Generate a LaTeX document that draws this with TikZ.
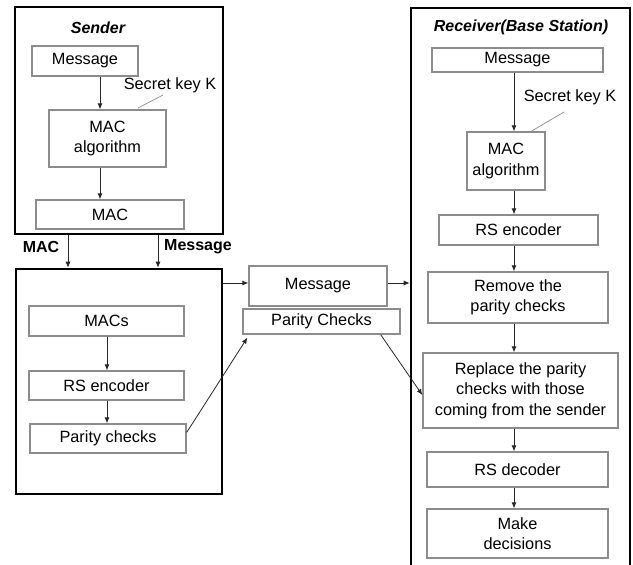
\documentclass[tikz,border=0pt]{standalone}
\usepackage{fontspec}
\setmainfont{Liberation Sans}
\usetikzlibrary{arrows.meta,calc}
\tikzset{
  box/.style={draw=black!45, line width=1.3pt, fill=white, inner sep=1pt, align=center, font=\fontsize{16.3}{20.5}\selectfont},
  outer/.style={draw=black, line width=2.6pt, inner sep=0pt},
  arr/.style={-{Latex[length=6pt,width=5pt]}, line width=0.8pt, black!85},
  keyline/.style={draw=black!45, line width=0.7pt},
  lbl/.style={font=\fontsize{16.3}{19}\selectfont, inner sep=0pt},
  blbl/.style={font=\bfseries\fontsize{16}{19}\selectfont, inner sep=0pt},
  ttl/.style={font=\bfseries\itshape\fontsize{16}{19}\selectfont, inner sep=0pt}
}
\begin{document}
\begin{tikzpicture}[x=1pt,y=-1pt]
\clip (0,0) rectangle (633,565);
\fill[white] (0,0) rectangle (633,565);
% outer boxes
\node[outer, minimum width=208pt, minimum height=227pt] (sender) at (119,120.5) {};
\node[outer, minimum width=206pt, minimum height=225pt] (left) at (119,381.5) {};
\node[outer, minimum width=219pt, minimum height=572pt] (recv) at (520.5,294) {};
% titles
\node[ttl] (tS) at (98,28) {Sender};
\node[ttl] (tR) at (521,27) {Receiver(Base Station)};
% sender
\node[box, minimum width=106pt, minimum height=30pt] (smsg) at (85,61) {Message};
\node[box, minimum width=117pt, minimum height=57pt] (salg) at (107.5,138.5) {MAC\\algorithm};
\node[box, minimum width=148pt, minimum height=29pt] (smac) at (110,214.5) {MAC};
\node[lbl] (skey) at (170,85) {Secret key K};
% left
\node[box, minimum width=155pt, minimum height=30pt] (lmacs) at (106.5,321) {MACs};
\node[box, minimum width=155pt, minimum height=29pt] (lrs) at (106.5,385.5) {RS encoder};
\node[box, minimum width=156pt, minimum height=29pt] (lpar) at (108,438.5) {Parity checks};
% middle
\node[box, minimum width=138pt, minimum height=40pt] (mmsg) at (318,286) {Message};
\node[box, minimum width=157pt, minimum height=25pt] (mpar) at (321.5,321.5) {Parity Checks};
% receiver
\node[box, minimum width=171pt, minimum height=24pt] (rmsg) at (517.5,60) {Message};
\node[box, minimum width=78pt, minimum height=58pt] (ralg) at (506,161) {MAC\\algorithm};
\node[lbl] (rkey) at (570,97) {Secret key K};
\node[box, minimum width=159pt, minimum height=30pt] (rrs) at (518.5,230) {RS encoder};
\node[box, minimum width=180pt, minimum height=51pt] (rrem) at (518,297.5) {Remove the\\parity checks};
\node[box, minimum width=195pt, minimum height=75pt] (rrep) at (520.5,390.5) {Replace the parity\\checks with those\\coming from the sender};
\node[box, minimum width=181pt, minimum height=35pt] (rdec) at (517.5,469.5) {RS decoder};
\node[box, minimum width=181pt, minimum height=49pt] (rmake) at (517.5,533.5) {Make\\decisions};
% labels between sender and left
\node[blbl] (lmac) at (41,247) {MAC};
\node[blbl] (lmsg) at (198,247) {Message};
% x guides
\coordinate (xs) at (100,0);
\coordinate (xl) at (107,0);
\coordinate (xr) at (514,0);
\coordinate (xm1) at (68,0);
\coordinate (xm2) at (158,0);
% key lines
\coordinate (sk1) at (138,108);
\coordinate (sk2) at (163,95);
\coordinate (rk1) at (530,132);
\coordinate (rk2) at (564,112);
\draw[keyline] (sk1) -- (sk2);
\draw[keyline] (rk1) -- (rk2);
% sender arrows
\draw[arr] (smsg.south -| xs) -- (salg.north -| xs);
\draw[arr] (salg.south -| xs) -- (smac.north -| xs);
\draw[arr] (sender.south -| xm1) -- (left.north -| xm1);
\draw[arr] (sender.south -| xm2) -- (left.north -| xm2);
% left arrows
\draw[arr] (lmacs.south -| xl) -- (lrs.north -| xl);
\draw[arr] (lrs.south -| xl) -- (lpar.north -| xl);
\draw[arr] ([yshift=6pt]lpar.east) -- ([xshift=5pt,yshift=-3pt]mpar.south west);
% middle arrows
\draw[arr] ([yshift=3pt]mmsg.west -| left.east) -- ([yshift=3pt]mmsg.west);
\draw[arr] ([yshift=3pt]mmsg.east) -- ([yshift=3pt]mmsg.east -| recv.west);
\draw[arr] ([xshift=-20pt]mpar.south east) -- ([yshift=-4.5pt]rrep.west);
% receiver arrows
\draw[arr] (rmsg.south -| xr) -- (ralg.north -| xr);
\draw[arr] (ralg.south -| xr) -- (rrs.north -| xr);
\draw[arr] (rrs.south -| xr) -- (rrem.north -| xr);
\draw[arr] (rrem.south -| xr) -- (rrep.north -| xr);
\draw[arr] (rrep.south -| xr) -- (rdec.north -| xr);
\draw[arr] (rdec.south -| xr) -- (rmake.north -| xr);
\end{tikzpicture}
\end{document}
